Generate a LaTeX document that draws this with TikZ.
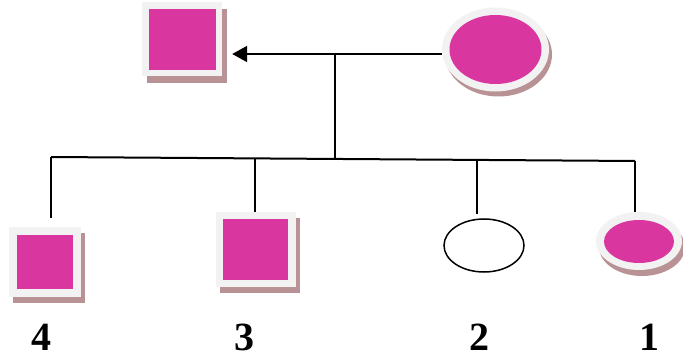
\documentclass[tikz,border=0pt]{standalone}
\usepackage{fontspec}
\setmainfont{Liberation Serif}
\usetikzlibrary{arrows.meta,shapes.geometric}
\definecolor{pinkc}{RGB}{217,54,160}
\definecolor{framec}{RGB}{242,242,242}
\definecolor{shadowc}{RGB}{184,146,148}
\begin{document}
\begin{tikzpicture}[x=1pt,y=-1pt,
  sq/.style={rectangle, inner sep=0pt, draw=none},
  el/.style={ellipse, inner sep=0pt, draw=none},
  shad/.style={fill=shadowc},
  frm/.style={fill=framec},
  core/.style={fill=pinkc},
  link/.style={line width=2pt, draw=black},
  arr/.style={link, -{Triangle[length=15pt,width=16pt]}},
  lab/.style={font=\fontsize{40}{40}\selectfont\bfseries, inner sep=0pt, anchor=base}]
\useasboundingbox (0,0) rectangle (683,358);
% father (top square)
\node[sq,shad,minimum width=80pt,minimum height=74pt] (Fs) at (187,46) {};
\node[sq,frm,minimum width=80pt,minimum height=74pt] (F) at (182,39) {};
\node[sq,core,minimum width=67pt,minimum height=61pt] (Fc) at (182.5,39.5) {};
% mother (top ellipse)
\node[el,shad,minimum width=107pt,minimum height=84pt] (Ms) at (498.5,54.5) {};
\node[el,frm,minimum width=107pt,minimum height=84pt] (M) at (495.5,49.5) {};
\node[el,core,minimum width=92pt,minimum height=69pt] (Mc) at (495.5,49.5) {};
% child 4
\node[sq,shad,minimum width=72pt,minimum height=70pt] (c4s) at (49,268) {};
\node[sq,frm,minimum width=72pt,minimum height=70pt] (c4) at (45,262) {};
\node[sq,core,minimum width=56pt,minimum height=54pt] (c4c) at (45,262) {};
% child 3
\node[sq,shad,minimum width=80pt,minimum height=75pt] (c3s) at (260,255.5) {};
\node[sq,frm,minimum width=80pt,minimum height=75pt] (c3) at (256,249.5) {};
\node[sq,core,minimum width=65pt,minimum height=61pt] (c3c) at (255.5,249.5) {};
% child 2
\node[el,draw=black,line width=1.5pt,fill=white,minimum width=80pt,minimum height=53pt] (c2) at (484,245.5) {};
% child 1
\node[el,shad,minimum width=86pt,minimum height=58pt] (c1s) at (642,247) {};
\node[el,frm,minimum width=86pt,minimum height=58pt] (c1) at (639,241) {};
\node[el,core,minimum width=70pt,minimum height=43pt] (c1c) at (639,241.5) {};
% connectors
\coordinate (J) at (335,54);
\coordinate (Jb) at (335,158.4);
\coordinate (bl) at (51,157);
\coordinate (br) at (635,161);
\coordinate (b3) at (255,158.4);
\coordinate (b2) at (477,159.9);
\draw[arr] ([yshift=-4.5pt]M.west) -- ([xshift=10pt,yshift=-15pt]F.east);
\draw[link] (J) -- (Jb);
\draw[link] (bl) -- (br);
\draw[link,shorten >=9pt] (bl) -- (bl |- c4.north);
\draw[link] (b3) -- (b3 |- c3.north);
\draw[link,shorten >=4pt] (b2) -- (b2 |- c2.north);
\draw[link] (br) -- (br |- c1.north);
% labels
\node[lab] (l4) at (41,350) {4};
\node[lab] (l3) at (244,350) {3};
\node[lab] (l2) at (479,350) {2};
\node[lab] (l1) at (649,350) {1};
\end{tikzpicture}
\end{document}
